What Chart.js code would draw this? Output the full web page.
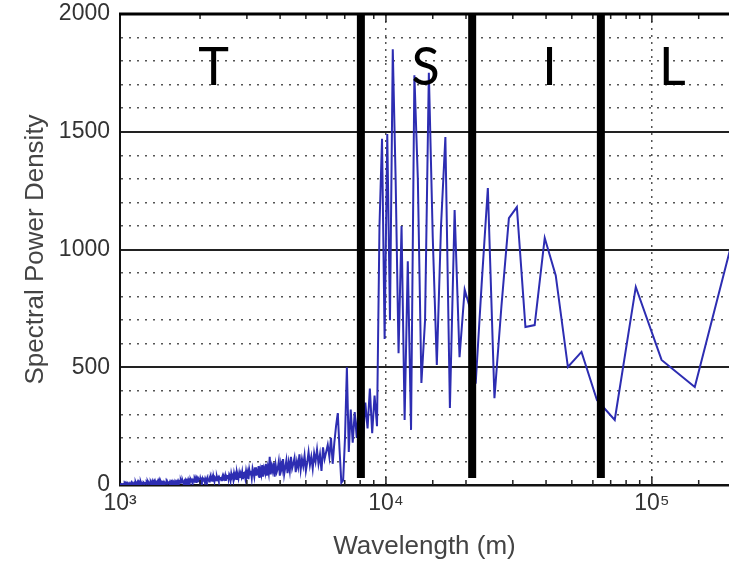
<!DOCTYPE html>
<html>
<head>
<meta charset="utf-8">
<script src="https://cdn.jsdelivr.net/npm/chart.js@4.4.1/dist/chart.umd.min.js"></script>
<style>
  html, body { margin: 0; padding: 0; background: #fff; }
  #wrap { width: 729px; height: 562px; }
</style>
</head>
<body>
<div id="wrap"><canvas id="psd-chart" width="729" height="562"></canvas></div>
<script>
/* ===== Spectral Power Density vs Wavelength ===== */

// wavelength of harmonic k is recordLength / k (m)
const recordLength = 435000;

// PSD for harmonics k = 1, 2, 3, ...
const psd = [
  1500, 1190, 416, 531, 841, 276, 361, 565, 501, 890,
  1049, 679, 671, 1180, 1133, 760, 369, 1261, 850, 430,
  750, 830, 543, 1168, 327, 1478, 1100, 510, 1050, 1750,
  700, 433, 1300, 1740, 234, 950, 276, 1100, 560, 1300,
  1850, 700, 1490, 620, 1470, 1100, 250, 380, 220, 410,
  240, 350, 200, 420,
  350, 200, 310, 180, 320, 140, 500, 200, 20, 10,
  150, 305, 250, 180, 90, 200, 120, 170, 140, 110,
  160, 60, 130, 90, 150, 100, 135, 70, 120, 85,
  140, 95, 60, 125, 80, 110, 65, 130, 75, 100,
  55, 115, 90, 70, 120, 60, 95, 50, 105, 75,
  45, 110, 65, 90, 40, 100, 70, 55, 85, 35,
  95, 60, 80, 45, 120, 50, 75, 40, 90, 55,
  70, 35, 85, 45, 65, 30, 80, 50, 60, 40,
  75, 35, 55, 70, 30, 60, 45, 65, 25, 55,
  40, 60, 30, 50, 45, 25, 55, 35, 48, 30,
  50, 28, 42, 55, 25, 45, 35, 50, 22, 40,
  33, 48, 20, 38, 45, 25, 42, 30, 36, 18,
  40, 28, 35, 22, 38, 30, 20, 34, 26, 32,
  18, 30, 25, 35, 20, 28, 32, 15, 27, 22,
  30, 18, 25, 33, 20, 26, 15, 28, 22, 30,
  17, 24, 20, 27, 14, 22, 25, 18, 26, 15,
  23, 19, 28, 14, 21, 25, 16, 22, 18, 24,
  13, 20, 17, 23, 15, 19, 22, 12, 18, 21,
  14, 20, 16, 11, 19, 15, 22, 13, 17, 10,
  18, 14, 20, 12, 16, 9, 17, 13, 19, 11,
  15, 12, 18, 10, 14, 16, 9, 13, 17, 11,
  14, 8, 15, 12, 10, 16, 9, 13, 11, 14,
  8, 12, 15, 10, 13, 7, 11, 14, 9, 12,
  10, 13, 7, 11, 9, 14, 8, 12, 10, 6,
  11, 9, 13, 7, 10, 12, 8, 11, 6, 10,
  12, 16, 8, 14, 10, 18, 7, 13, 15, 9,
  14, 10, 6, 13, 11, 8, 16, 7, 12, 14,
  9, 12, 6, 11, 15, 7, 13, 9, 14, 6,
  11, 8, 14, 9, 12, 6, 10, 15, 8, 9,
  12, 6, 10, 9, 13, 7, 5, 12, 9, 11,
  6, 10, 8, 12, 9, 5, 11, 7, 13, 6,
  9, 12, 5, 8, 11, 6, 9, 12, 4, 8,
  10, 6, 9, 5, 12, 8, 6, 10, 5, 9,
  8, 4, 10, 6, 9, 5, 8, 10, 4, 7,
  9, 5, 8, 6, 4, 10, 6, 8, 5, 9,
  4, 7, 8, 5, 9, 4, 6, 5, 8, 3,
  6, 5, 8, 4, 7, 3, 5, 8, 4, 5,
  3, 6, 4, 5, 7, 3, 5, 4, 6, 3, 4
];

// region boundaries (m) and their labels
const boundaries = [8050, 21100, 64300];
const regionNames = ['T', 'S', 'I', 'L'];
const regionCenters = [2250, 14100, 41200, 119500];
const regionLabelLevel = 1700;

const xRange = [1000, 195000];
const yRange = [0, 2000];
const yMajorStep = 500;
const yMinorStep = 100;

const SUP = { 3: '\u00B3', 4: '\u2074', 5: '\u2075' };
const AXIS_FONT = 'Liberation Sans, Arial, sans-serif';

function isDecade(v) {
  const l = Math.log10(v);
  return Math.abs(l - Math.round(l)) < 1e-9;
}

// MATLAB style inward minor ticks, top border, region dividers + labels
const overlays = {
  id: 'overlays',
  afterDatasetsDraw(chart) {
    const { ctx, chartArea: a, scales: { x, y } } = chart;
    ctx.save();

    // inward x ticks (bottom and top)
    ctx.strokeStyle = '#222';
    ctx.lineWidth = 1.5;
    x.ticks.forEach(t => {
      const px = x.getPixelForValue(t.value);
      if (px <= a.left + 2 || px >= a.right - 1) return;
      const len = isDecade(t.value) ? 8 : 5;
      ctx.beginPath();
      ctx.moveTo(px, a.bottom); ctx.lineTo(px, a.bottom - len);
      ctx.moveTo(px, a.top); ctx.lineTo(px, a.top + len);
      ctx.stroke();
    });

    // top border
    ctx.strokeStyle = '#000';
    ctx.lineWidth = 3;
    ctx.beginPath();
    ctx.moveTo(a.left - 1, a.top);
    ctx.lineTo(a.right, a.top);
    ctx.stroke();

    // thick region dividers
    ctx.lineWidth = 8;
    const yEnd = y.getPixelForValue(30);
    boundaries.forEach(b => {
      const px = x.getPixelForValue(b);
      ctx.beginPath();
      ctx.moveTo(px, a.top);
      ctx.lineTo(px, yEnd);
      ctx.stroke();
    });

    // region letters
    ctx.fillStyle = '#000';
    ctx.font = '400 52px Lato, "Open Sans", sans-serif';
    ctx.textAlign = 'center';
    ctx.textBaseline = 'alphabetic';
    regionNames.forEach((n, i) => {
      ctx.fillText(n, x.getPixelForValue(regionCenters[i]), y.getPixelForValue(regionLabelLevel));
    });
    ctx.restore();
  }
};

const points = psd.map((v, i) => ({ x: recordLength / (i + 1), y: v })).reverse();

new Chart(document.getElementById('psd-chart').getContext('2d'), {
  type: 'line',
  data: {
    datasets: [{
      label: 'PSD',
      data: points,
      borderColor: 'rgb(45,45,178)',
      borderWidth: 2,
      pointRadius: 0,
      tension: 0,
      fill: false
    }]
  },
  options: {
    responsive: false,
    animation: false,
    layout: { padding: { top: 14, right: 0, bottom: 0, left: 0 } },
    plugins: { legend: { display: false }, tooltip: { enabled: false } },
    scales: {
      x: {
        type: 'logarithmic',
        min: xRange[0],
        max: xRange[1],
        afterFit: s => { s.height = 77; s.paddingLeft = 0; s.paddingRight = 0; },
        ticks: {
          autoSkip: false,
          maxRotation: 0,
          minRotation: 0,
          padding: 5,
          color: '#333',
          font: { family: AXIS_FONT, size: 23 },
          callback: v => isDecade(v) ? '10' + SUP[Math.round(Math.log10(v))] : ''
        },
        grid: {
          drawTicks: false,
          lineWidth: 1.5,
          color: c => (c.tick && isDecade(c.tick.value) && c.tick.value > xRange[0]) ? '#555' : 'rgba(0,0,0,0)'
        },
        border: { color: '#111', width: 2.5, dash: [2, 5] },
        title: {
          display: true,
          text: 'Wavelength (m)',
          color: '#444',
          font: { family: AXIS_FONT, size: 26 },
          padding: { top: 0, bottom: 0 }
        }
      },
      y: {
        min: yRange[0],
        max: yRange[1],
        afterFit: s => { s.width = 120; s.paddingTop = 0; s.paddingBottom = 0; },
        ticks: {
          stepSize: yMinorStep,
          autoSkip: false,
          padding: 10,
          color: '#333',
          font: { family: AXIS_FONT, size: 23 },
          callback: v => v % yMajorStep === 0 ? v : ''
        },
        grid: {
          drawTicks: false,
          color: c => {
            const v = c.tick ? c.tick.value : 0;
            if (v === yRange[0] || v === yRange[1]) return 'rgba(0,0,0,0)';
            return v % yMajorStep === 0 ? '#222' : '#555';
          },
          lineWidth: c => (c.tick && c.tick.value % yMajorStep === 0) ? 2 : 1.5
        },
        border: {
          color: '#111',
          width: 2,
          dash: c => (c.tick && c.tick.value % yMajorStep !== 0) ? [2, 6] : []
        },
        title: {
          display: true,
          text: 'Spectral Power Density',
          color: '#444',
          font: { family: AXIS_FONT, size: 26 },
          padding: { top: 20, bottom: 0 }
        }
      }
    }
  },
  plugins: [overlays]
});
</script>
</body>
</html>
